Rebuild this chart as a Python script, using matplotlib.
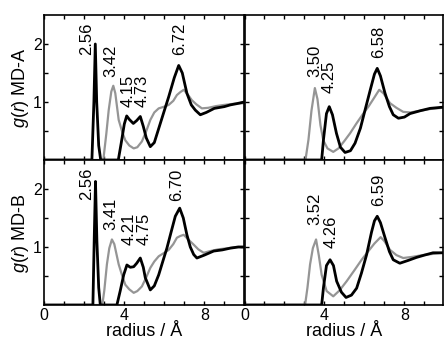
import matplotlib
matplotlib.use("Agg")
import matplotlib.pyplot as plt

plt.rcParams["font.family"] = ["Liberation Sans", "DejaVu Sans"]
plt.rcParams["mathtext.fontset"] = "custom"
plt.rcParams["mathtext.it"] = "Liberation Sans:italic"
plt.rcParams["mathtext.rm"] = "Liberation Sans"

# =========================
# 1. Data
# =========================
# MD-A, left panel
a1_black_r = [0, 2.38, 2.48, 2.55, 2.62, 2.72, 2.82, 3.7, 3.85, 4.0, 4.12, 4.25, 4.45, 4.62, 4.8, 4.95,
              5.1, 5.3, 5.5, 5.8, 6.0, 6.22, 6.5, 6.72, 6.9, 7.13, 7.35, 7.55, 7.8, 8.1, 8.5, 9.0, 9.3, 9.6, 10]
a1_black_g = [0, 0, 1.0, 2.0, 1.0, 0.25, 0, 0, 0.3, 0.62, 0.76, 0.7, 0.63, 0.68, 0.75, 0.58,
              0.38, 0.23, 0.3, 0.63, 0.85, 1.09, 1.42, 1.63, 1.5, 1.15, 0.95, 0.86, 0.78, 0.82, 0.89, 0.92, 0.95, 0.97, 1.0]
a1_gray_r = [0, 2.95, 3.1, 3.22, 3.35, 3.45, 3.55, 3.72, 3.9, 4.05, 4.25, 4.47, 4.65, 4.88, 5.1, 5.3,
             5.5, 5.72, 6.0, 6.22, 6.45, 6.63, 6.8, 6.97, 7.15, 7.38, 7.6, 7.88, 8.2, 8.6, 9.0, 9.5, 10]
a1_gray_g = [0, 0, 0.45, 0.86, 1.18, 1.28, 1.15, 0.69, 0.48, 0.34, 0.25, 0.2, 0.22, 0.32, 0.5, 0.69,
             0.82, 0.89, 0.92, 0.95, 1.02, 1.12, 1.17, 1.21, 1.14, 1.03, 0.96, 0.89, 0.9, 0.93, 0.95, 0.97, 0.98]

# MD-A, right panel
a2_black_r = [0, 3.86, 3.95, 4.1, 4.24, 4.4, 4.6, 4.8, 5.03, 5.3, 5.53, 5.8, 6.03, 6.3, 6.5, 6.64,
              6.8, 7.03, 7.25, 7.44, 7.7, 8.0, 8.28, 8.8, 9.28, 9.9]
a2_black_g = [0, 0, 0.35, 0.8, 0.92, 0.78, 0.46, 0.22, 0.13, 0.16, 0.29, 0.55, 0.86, 1.22, 1.48, 1.58,
              1.45, 1.15, 0.92, 0.78, 0.72, 0.74, 0.8, 0.85, 0.89, 0.91]
a2_gray_r = [0, 3.05, 3.2, 3.35, 3.52, 3.65, 3.8, 3.94, 4.15, 4.44, 4.7, 5.0, 5.28, 5.6, 5.94, 6.2,
             6.5, 6.74, 6.95, 7.28, 7.6, 7.94, 8.3, 8.8, 9.3, 9.9]
a2_gray_g = [0, 0, 0.35, 0.85, 1.24, 1.05, 0.6, 0.34, 0.2, 0.14, 0.2, 0.33, 0.46, 0.63, 0.8, 0.92,
             1.08, 1.21, 1.15, 0.98, 0.9, 0.83, 0.82, 0.85, 0.88, 0.9]

# MD-B, left panel
b1_black_r = [0, 2.43, 2.5, 2.56, 2.63, 2.72, 2.8, 3.63, 3.8, 3.97, 4.13, 4.3, 4.47, 4.62, 4.8, 4.95,
              5.05, 5.3, 5.5, 5.72, 5.95, 6.13, 6.35, 6.55, 6.77, 6.95, 7.13, 7.3, 7.47, 7.63, 8.0, 8.47,
              8.9, 9.3, 9.7, 10]
b1_black_g = [0, 0, 1.2, 2.13, 1.1, 0.3, 0, 0, 0.25, 0.52, 0.69, 0.65, 0.66, 0.72, 0.81, 0.65,
              0.47, 0.26, 0.33, 0.52, 0.78, 0.98, 1.27, 1.53, 1.67, 1.5, 1.21, 1.0, 0.87, 0.81, 0.86, 0.93,
              0.95, 0.98, 1.0, 1.0]
b1_gray_r = [0, 2.9, 3.0, 3.13, 3.25, 3.38, 3.5, 3.72, 3.9, 4.05, 4.25, 4.47, 4.65, 4.88, 5.1, 5.3,
             5.5, 5.72, 6.0, 6.22, 6.45, 6.63, 6.8, 6.97, 7.2, 7.47, 7.7, 7.97, 8.3, 8.7, 9.2, 9.6, 10]
b1_gray_g = [0, 0, 0.25, 0.7, 0.98, 1.13, 1.05, 0.7, 0.5, 0.35, 0.27, 0.21, 0.24, 0.32, 0.48, 0.64,
             0.75, 0.84, 0.9, 0.95, 1.05, 1.16, 1.19, 1.21, 1.13, 1.04, 0.96, 0.9, 0.93, 0.96, 0.98, 1.0, 1.0]

# MD-B, right panel
b2_black_r = [0, 3.86, 3.95, 4.1, 4.28, 4.45, 4.61, 4.85, 5.08, 5.35, 5.61, 5.85, 6.11, 6.35, 6.5, 6.64,
              6.8, 7.03, 7.25, 7.44, 7.77, 8.2, 8.6, 9.0, 9.43, 9.9]
b2_black_g = [0, 0, 0.3, 0.68, 0.78, 0.68, 0.41, 0.22, 0.13, 0.17, 0.29, 0.55, 0.87, 1.25, 1.45, 1.53,
              1.42, 1.16, 0.92, 0.78, 0.72, 0.77, 0.82, 0.86, 0.9, 0.9]
b2_gray_r = [0, 3.03, 3.15, 3.28, 3.42, 3.58, 3.72, 3.86, 4.11, 4.44, 4.75, 5.11, 5.5, 5.86, 6.2, 6.5,
             6.81, 7.0, 7.28, 7.6, 7.94, 8.4, 8.9, 9.4, 9.9]
b2_gray_g = [0, 0, 0.3, 0.7, 0.98, 1.13, 0.85, 0.52, 0.24, 0.15, 0.25, 0.41, 0.6, 0.78, 0.93, 1.06,
             1.17, 1.1, 0.95, 0.86, 0.81, 0.83, 0.86, 0.88, 0.9]

# peak labels (text, r, g of text bottom)
a1_labels = ["2.56", "3.42", "4.15", "4.73", "6.72"]
a1_lab_r = [2.1, 3.35, 4.17, 4.88, 6.78]
a1_lab_g = [1.81, 1.43, 0.91, 0.91, 1.81]
a2_labels = ["3.50", "4.25", "6.58"]
a2_lab_r = [3.5, 4.23, 6.7]
a2_lab_g = [1.43, 1.16, 1.76]
b1_labels = ["2.56", "3.41", "4.21", "4.75", "6.70"]
b1_lab_r = [2.1, 3.35, 4.25, 4.98, 6.62]
b1_lab_g = [1.81, 1.29, 1.03, 1.03, 1.79]
b2_labels = ["3.52", "4.26", "6.59"]
b2_lab_r = [3.5, 4.35, 6.7]
b2_lab_g = [1.38, 0.98, 1.71]

xtick_vals = list(range(0, 11))
xtick_text = ["0", "", "", "", "4", "", "", "", "8", "", ""]
ytick_vals = [0.5, 1, 1.5, 2]
ytick_text = ["", "1", "", "2"]

# =========================
# 2. Figure & axes
# =========================
fig = plt.figure(figsize=(4.46, 3.43), dpi=100)
w, h = 200 / 446, 145 / 343
ax_a1 = fig.add_axes([44.3 / 446, 183 / 343, w, h])
ax_a2 = fig.add_axes([244.5 / 446, 183 / 343, 198.5 / 446, h])
ax_b1 = fig.add_axes([44.3 / 446, 38 / 343, w, h])
ax_b2 = fig.add_axes([244.5 / 446, 38 / 343, 198.5 / 446, h])

panels = [
    (ax_a1, a1_black_r, a1_black_g, a1_gray_r, a1_gray_g, a1_labels, a1_lab_r, a1_lab_g),
    (ax_a2, a2_black_r, a2_black_g, a2_gray_r, a2_gray_g, a2_labels, a2_lab_r, a2_lab_g),
    (ax_b1, b1_black_r, b1_black_g, b1_gray_r, b1_gray_g, b1_labels, b1_lab_r, b1_lab_g),
    (ax_b2, b2_black_r, b2_black_g, b2_gray_r, b2_gray_g, b2_labels, b2_lab_r, b2_lab_g),
]

for ax, br, bg, gr, gg, labs, lr, lg in panels:
    ax.plot(gr, gg, color="#959595", lw=1.6, solid_joinstyle="round")
    ax.plot(br, bg, color="black", lw=2.0, solid_joinstyle="round")
    for t, x, y in zip(labs, lr, lg):
        ax.text(x, y, t, rotation=90, ha="center", va="bottom", fontsize=12)
    ax.set_ylim(0, 2.5)
    ax.set_xticks(xtick_vals)
    ax.set_yticks(ytick_vals)
    ax.tick_params(direction="in", length=3, width=1, top=True, right=True,
                   labelsize=11.5, pad=2)
    for s in ax.spines.values():
        s.set_linewidth(1.2)

ax_a1.set_xlim(0, 10)
ax_b1.set_xlim(0, 10)
ax_a2.set_xlim(0, 9.93)
ax_b2.set_xlim(0, 9.93)

# tick labels
for ax in (ax_a1, ax_a2):
    ax.set_xticklabels([])
for ax in (ax_b1, ax_b2):
    ax.set_xticklabels(xtick_text)
    ax.set_xlabel("radius / Å", fontsize=13, labelpad=0)
for ax in (ax_a1, ax_b1):
    ax.set_yticklabels(ytick_text)
for ax in (ax_a2, ax_b2):
    ax.set_yticklabels([])

ax_a1.set_ylabel("$g(r)$ MD-A", fontsize=13, labelpad=1)
ax_b1.set_ylabel("$g(r)$ MD-B", fontsize=13, labelpad=1)

# =========================
# 3. Save
# =========================
fig.savefig("out.png", dpi=100)
